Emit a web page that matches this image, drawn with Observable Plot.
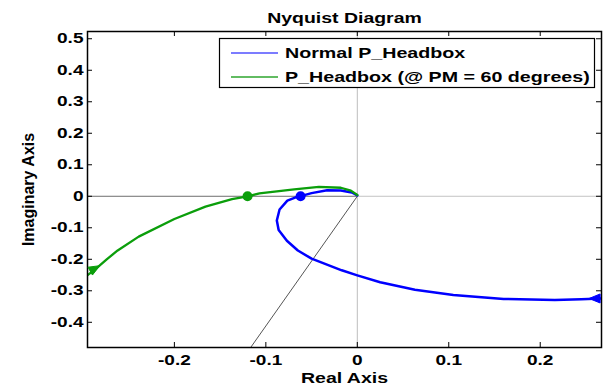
<!DOCTYPE html>
<html>
<head>
<meta charset="utf-8">
<script src="https://cdn.jsdelivr.net/npm/d3@7"></script>
<script src="https://cdn.jsdelivr.net/npm/@observablehq/plot@0.6"></script>
<style>
  html, body { margin: 0; padding: 0; background: #fff; }
  #chart { width: 606px; height: 389px; }
</style>
</head>
<body>
<div id="chart"></div>
<script>
// ---- data ----
const titleText = "Nyquist Diagram";
const xLabel = "Real Axis";
const yLabel = "Imaginary Axis";
const seriesNames = ["Normal P_Headbox", "P_Headbox (@ PM = 60 degrees)"];
const seriesColors = ["#0000ff", "#0b9e0b"];
const legendColors = ["#5050ff", "#2ea62e"];

const xTicks = [-0.2, -0.1, 0, 0.1, 0.2];
const yTicks = [0.5, 0.4, 0.3, 0.2, 0.1, 0, -0.1, -0.2, -0.3, -0.4];
const xDomain = [-0.295, 0.267];
const yDomain = [-0.48, 0.523];

// Normal P_Headbox (blue), from right edge to origin
const blueRe = [0.272, 0.245, 0.216, 0.16, 0.105, 0.063, 0.025, 0, -0.017, -0.050, -0.065, -0.077, -0.086, -0.088, -0.085, -0.0765, -0.068, -0.060, -0.050, -0.033, -0.018, -0.006, 0];
const blueIm = [-0.324, -0.327, -0.329, -0.326, -0.313, -0.297, -0.273, -0.251, -0.235, -0.198, -0.172, -0.141, -0.107, -0.077, -0.042, -0.014, -0.004, 0.002, 0.010, 0.019, 0.018, 0.012, 0.003];

// P_Headbox @ PM = 60 degrees (green), from left edge to origin
const greenRe = [-0.300, -0.285, -0.274, -0.262, -0.239, -0.200, -0.166, -0.137, -0.120, -0.107, -0.069, -0.042, -0.018, -0.007, 0];
const greenIm = [-0.262, -0.228, -0.200, -0.172, -0.128, -0.072, -0.033, -0.009, 0.0, 0.009, 0.022, 0.030, 0.027, 0.018, 0.004];

// crossing markers on the real axis
const crossRe = [-0.062, -0.120];
const crossIm = [0, 0];

// phase-margin line from origin
const pmRe = [0, -0.12];
const pmIm = [0, -0.494];

// direction arrows: [tailRe, tailIm, tipRe, tipIm]
const blueArrow = [0.268, -0.326, 0.254, -0.326];
const greenArrow = [-0.292, -0.240, -0.281, -0.222];

// ---- build tables ----
const blue = blueRe.map((r, i) => ({re: r, im: blueIm[i]}));
const green = greenRe.map((r, i) => ({re: r, im: greenIm[i]}));
const cross = crossRe.map((r, i) => ({re: r, im: crossIm[i], s: seriesNames[i]}));
const pm = pmRe.map((r, i) => ({re: r, im: pmIm[i]}));

const fmt = d => d === 0 ? "0" : d.toFixed(1);
const W = 606, H = 389, mL = 87, mR = 5, mT = 31, mB = 42;
const fw = W - mL - mR, fh = H - mT - mB, tk = 5;

const plot = Plot.plot({
  width: W, height: H,
  marginLeft: mL, marginRight: mR, marginTop: mT, marginBottom: mB,
  style: {fontFamily: "'Liberation Sans', Arial, sans-serif", fontSize: "14px", fontWeight: "bold", background: "#fff", color: "#000"},
  x: {domain: xDomain},
  y: {domain: yDomain},
  color: {domain: seriesNames, range: seriesColors},
  marks: [
    Plot.ruleX([0], {stroke: "#bdbdbd", strokeWidth: 1}),
    Plot.ruleY([0], {x1: xDomain[0], x2: 0, stroke: "#6e6e6e", strokeWidth: 1}),
    Plot.ruleY([0], {x1: 0, x2: xDomain[1], stroke: "#c4c4c4", strokeWidth: 1}),
    Plot.line(pm, {x: "re", y: "im", stroke: "#555", strokeWidth: 1, clip: true}),
    Plot.line(blue, {x: "re", y: "im", stroke: seriesColors[0], strokeWidth: 2.5, clip: true}),
    Plot.line(green, {x: "re", y: "im", stroke: seriesColors[1], strokeWidth: 2.3, clip: true}),
    Plot.dot(cross, {x: "re", y: "im", fill: "s", r: 5, stroke: null}),
    // inward ticks on all four sides
    Plot.ruleX(xTicks, {x: d => d, insetTop: fh - tk, stroke: "#000"}),
    Plot.ruleX(xTicks, {x: d => d, insetBottom: fh - tk, stroke: "#000"}),
    Plot.ruleY(yTicks, {y: d => d, insetRight: fw - tk, stroke: "#000"}),
    Plot.ruleY(yTicks, {y: d => d, insetLeft: fw - tk, stroke: "#000"}),
    Plot.frame({stroke: "#000", strokeWidth: 1.5}),
    Plot.axisX({ticks: xTicks, tickSize: 0, tickPadding: 8, tickFormat: fmt, label: null, fontSize: 14}),
    Plot.axisY({ticks: yTicks, tickSize: 0, tickPadding: 4, tickFormat: fmt, label: null, fontSize: 14}),
    Plot.text([titleText], {frameAnchor: "top", dy: -13, textAnchor: "middle", lineAnchor: "middle", fontSize: 14, fontWeight: "bold"}),
    Plot.text([xLabel], {frameAnchor: "bottom", dy: 31, textAnchor: "middle", lineAnchor: "middle", fontSize: 15, fontWeight: "bold"}),
    Plot.text([yLabel], {frameAnchor: "left", dx: -59, rotate: -90, textAnchor: "middle", lineAnchor: "middle", fontSize: 16, fontWeight: "bold"})
  ]
});

document.getElementById("chart").appendChild(plot);

// arrows on the curves, positioned through Plot's own scales
const sx = plot.scale("x"), sy = plot.scale("y");
const svg = d3.select(plot);
function arrow(a, color) {
  const x0 = sx.apply(a[0]), y0 = sy.apply(a[1]), x1 = sx.apply(a[2]), y1 = sy.apply(a[3]);
  let ux = x1 - x0, uy = y1 - y0; const n = Math.hypot(ux, uy); ux /= n; uy /= n;
  const L = 11, hw = 4.5;
  const bx = x1 - ux * L, by = y1 - uy * L;
  const pts = [[x1, y1], [bx - uy * hw, by + ux * hw], [bx + uy * hw, by - ux * hw]];
  svg.append("polygon").attr("points", pts.map(p => p.join(",")).join(" ")).attr("fill", color).attr("stroke", color).attr("stroke-width", 1);
}
arrow(blueArrow, seriesColors[0]);
arrow(greenArrow, seriesColors[1]);

// legend box
const lg = svg.append("g").attr("font-family", "'Liberation Sans', Arial, sans-serif").attr("font-weight", "bold").attr("font-size", 15).attr("text-anchor", "start");
lg.append("rect").attr("x", 219.5).attr("y", 38.5).attr("width", 375).attr("height", 49).attr("fill", "#fff").attr("stroke", "#000").attr("stroke-width", 1.2);
const rowsY = [53, 77];
seriesNames.forEach((name, i) => {
  lg.append("path").attr("d", `M231,${rowsY[i]}H278`).attr("fill", "none").style("stroke", legendColors[i]).style("stroke-width", "1.5px");
  lg.append("text").attr("x", 285).attr("y", rowsY[i]).attr("dy", "0.36em").attr("text-anchor", "start").attr("fill", "#000").text(name).attr("class", "lgtext");
});

// the reference is horizontally stretched: widen horizontal texts
function stretch(el, k) {
  const w = el.getComputedTextLength();
  el.setAttribute("textLength", (w * k).toFixed(1));
  el.setAttribute("lengthAdjust", "spacingAndGlyphs");
}
plot.querySelectorAll("text").forEach(t => {
  const s = t.textContent;
  if (s === yLabel) return;
  if (s === titleText) stretch(t, 1.39);
  else if (s === xLabel) stretch(t, 1.3);
  else if (t.getAttribute("class") === "lgtext") stretch(t, 1.31);
  else stretch(t, 1.36);
});
</script>
</body>
</html>
